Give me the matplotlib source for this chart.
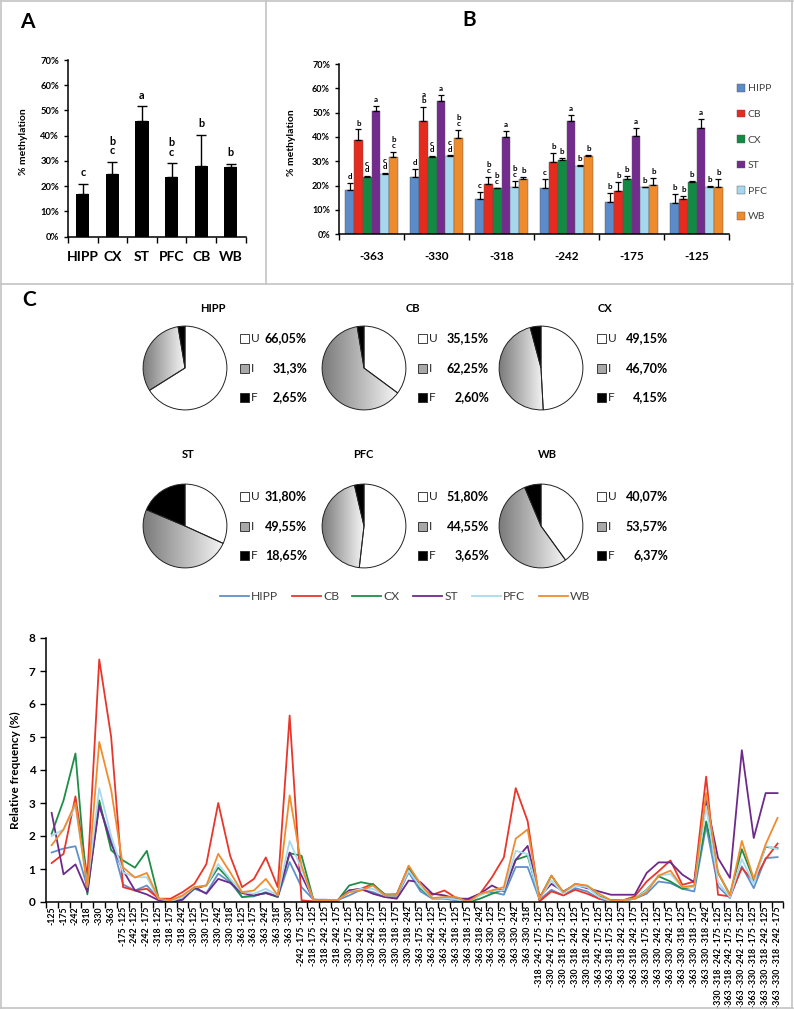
import numpy as np
import matplotlib
matplotlib.use('Agg')
import matplotlib.pyplot as plt
from matplotlib.patches import Rectangle, Patch
from matplotlib.lines import Line2D
from matplotlib.ticker import PercentFormatter, FixedLocator
from matplotlib.colors import LinearSegmentedColormap

plt.rcParams['font.family'] = ['Lato', 'DejaVu Sans']

# ---- panel A: overall methylation per region
a_regions = ['HIPP', 'CX', 'ST', 'PFC', 'CB', 'WB']
a_mean = [16.8, 24.8, 46.0, 23.7, 28.0, 27.6]
a_err = [4.2, 4.9, 5.7, 5.3, 12.4, 1.3]
a_letters = ['c', 'b\nc', 'a', 'b\nc', 'b', 'b']

# ---- panel B: methylation per CpG site
b_sites = ['-363', '-330', '-318', '-242', '-175', '-125']
b_regions = ['HIPP', 'CB', 'CX', 'ST', 'PFC', 'WB']
b_hipp = [18.2, 23.7, 14.4, 18.9, 13.2, 13.0]
b_cb = [38.8, 46.6, 20.5, 29.6, 17.9, 14.5]
b_cx = [23.7, 31.6, 18.9, 30.5, 22.6, 21.6]
b_st = [50.7, 54.8, 40.1, 46.6, 40.4, 43.6]
b_pfc = [24.8, 32.0, 19.6, 28.1, 19.3, 19.3]
b_wb = [31.6, 39.5, 22.6, 32.2, 20.3, 19.6]
b_hipp_err = [2.8, 3.0, 3.1, 3.8, 3.9, 3.4]
b_cb_err = [4.3, 5.9, 2.9, 3.7, 3.5, 1.4]
b_cx_err = [0.3, 0.5, 0.3, 0.7, 1.4, 0.2]
b_st_err = [2.0, 2.5, 2.5, 2.4, 3.2, 3.8]
b_pfc_err = [0.3, 0.4, 2.5, 0.3, 0.2, 0.7]
b_wb_err = [2.4, 3.4, 0.8, 0.4, 3.0, 3.0]
b_hipp_let = ['d', 'd', 'c', 'c', 'b', 'b']
b_cb_let = ['b', 'a\nb', 'b\nc', 'b', 'b', 'b']
b_cx_let = ['c\nd', 'c\nd', 'b\nc', 'b', 'b', 'b']
b_st_let = ['a', 'a', 'a', 'a', 'a', 'a']
b_pfc_let = ['c\nd', 'c\nd', 'b\nc', 'b', 'b', 'b']
b_wb_let = ['b\nc', 'b\nc', 'b', 'b', 'b', 'b']

# ---- panel C: pies (unmethylated / intermediate / fully methylated)
pie_regions = ['HIPP', 'CB', 'CX', 'ST', 'PFC', 'WB']
pie_u = ['66,05%', '35,15%', '49,15%', '31,80%', '51,80%', '40,07%']
pie_i = ['31,3%', '62,25%', '46,70%', '49,55%', '44,55%', '53,57%']
pie_f = ['2,65%', '2,60%', '4,15%', '18,65%', '3,65%', '6,37%']

# ---- panel C: relative frequency of methylated CpG combinations
combos = ['-125', '-175', '-242', '-318', '-330', '-363',
          '-175 -125', '-242 -125', '-242 -175', '-318 -125', '-318 -175',
          '-318 -242', '-330 -125', '-330 -175', '-330 -242', '-330 -318',
          '-363 -125', '-363 -175', '-363 -242', '-363 -318', '-363 -330',
          '-242 -175 -125', '-318 -175 -125', '-318 -242 -125', '-318 -242 -175',
          '-330 -175 -125', '-330 -242 -125', '-330 -242 -175', '-330 -318 -125',
          '-330 -318 -175', '-330 -318 -242', '-363 -175 -125', '-363 -242 -125',
          '-363 -242 -175', '-363 -318 -125', '-363 -318 -175', '-363 -318 -242',
          '-363 -330 -125', '-363 -330 -175', '-363 -330 -242', '-363 -330 -318',
          '-318 -242 -175 -125', '-330 -242 -175 -125', '-330 -318 -175 -125',
          '-330 -318 -242 -125', '-330 -318 -242 -175', '-363 -242 -175 -125',
          '-363 -318 -175 -125', '-363 -318 -242 -125', '-363 -318 -242 -175',
          '-363 -330 -175 -125', '-363 -330 -242 -125', '-363 -330 -242 -175',
          '-363 -330 -318 -125', '-363 -330 -318 -175', '-363 -330 -318 -242',
          '-330 -318 -242 -175 -125', '-363 -318 -242 -175 -125',
          '-363 -330 -242 -175 -125', '-363 -330 -318 -175 -125',
          '-363 -330 -318 -242 -125', '-363 -330 -318 -242 -175']
freq_hipp = [1.5, 1.62, 1.69, 0.45, 2.93, 1.87, 0.53, 0.35, 0.5, 0.1, 0.0, 0.07, 0.4, 0.27, 0.86, 0.6,
             0.15, 0.17, 0.3, 0.15, 1.21, 0.45, 0.07, 0.07, 0.05, 0.2, 0.37, 0.3, 0.15, 0.15, 0.9,
             0.32, 0.1, 0.1, 0.05, 0.0, 0.25, 0.3, 0.22, 1.06, 1.06, 0.07, 0.37, 0.2, 0.42, 0.32,
             0.1, 0.0, 0.05, 0.1, 0.25, 0.62, 0.57, 0.4, 0.32, 2.3, 0.47, 0.12, 1.08, 0.42, 1.33, 1.36]
freq_cb = [1.18, 1.46, 3.2, 0.75, 7.35, 5.0, 0.45, 0.35, 0.4, 0.1, 0.1, 0.3, 0.55, 1.15, 3.0, 1.4,
           0.45, 0.7, 1.35, 0.45, 5.65, 0.05, 0.02, 0.03, 0.03, 0.35, 0.4, 0.55, 0.2, 0.23, 1.08,
           0.42, 0.22, 0.35, 0.12, 0.07, 0.25, 0.75, 1.35, 3.45, 2.45, 0.02, 0.32, 0.2, 0.37, 0.25,
           0.1, 0.05, 0.05, 0.17, 0.62, 0.93, 1.26, 0.52, 0.62, 3.8, 0.22, 0.17, 1.03, 0.62, 1.3, 1.77]
freq_cx = [2.07, 3.08, 4.5, 0.23, 3.08, 1.57, 1.26, 1.04, 1.55, 0.1, 0.03, 0.15, 0.4, 0.5, 1.04, 0.66,
           0.15, 0.2, 0.27, 0.15, 1.48, 1.4, 0.07, 0.05, 0.03, 0.5, 0.6, 0.53, 0.23, 0.23, 1.05,
           0.4, 0.12, 0.12, 0.1, 0.0, 0.1, 0.25, 0.37, 1.28, 1.4, 0.12, 0.8, 0.27, 0.55, 0.47,
           0.17, 0.05, 0.05, 0.1, 0.37, 0.78, 0.62, 0.4, 0.47, 2.44, 0.88, 0.22, 1.6, 0.68, 1.67, 1.63]
freq_st = [2.7, 0.84, 1.14, 0.3, 2.93, 1.77, 0.96, 0.35, 0.23, 0.05, 0.0, 0.07, 0.45, 0.25, 0.7, 0.58,
           0.27, 0.2, 0.27, 0.17, 1.5, 0.8, 0.07, 0.05, 0.05, 0.35, 0.4, 0.25, 0.15, 0.1, 0.65,
           0.6, 0.25, 0.2, 0.1, 0.1, 0.25, 0.5, 0.32, 1.28, 1.7, 0.17, 0.55, 0.32, 0.52, 0.42,
           0.32, 0.22, 0.22, 0.22, 0.88, 1.2, 1.2, 0.83, 0.6, 3.1, 1.33, 0.73, 4.6, 1.94, 3.3, 3.3]
freq_pfc = [2.0, 2.2, 2.9, 0.5, 3.45, 2.0, 0.9, 0.75, 0.75, 0.1, 0.02, 0.15, 0.45, 0.5, 1.15, 0.7,
            0.3, 0.25, 0.4, 0.2, 1.85, 1.0, 0.05, 0.05, 0.05, 0.3, 0.4, 0.4, 0.2, 0.2, 0.95,
            0.45, 0.12, 0.12, 0.08, 0.0, 0.2, 0.35, 0.35, 1.55, 1.45, 0.1, 0.65, 0.25, 0.5, 0.45,
            0.15, 0.02, 0.05, 0.1, 0.35, 0.8, 0.85, 0.45, 0.45, 2.9, 0.6, 0.15, 1.3, 0.55, 1.7, 1.6]
freq_wb = [1.72, 2.2, 3.0, 0.45, 4.85, 3.4, 1.05, 0.74, 0.88, 0.1, 0.05, 0.2, 0.45, 0.5, 1.46, 0.9,
           0.3, 0.35, 0.7, 0.2, 3.23, 1.1, 0.05, 0.05, 0.05, 0.3, 0.35, 0.5, 0.2, 0.2, 1.1,
           0.55, 0.12, 0.15, 0.15, 0.0, 0.25, 0.35, 0.45, 1.92, 2.2, 0.1, 0.8, 0.3, 0.55, 0.5,
           0.25, 0.05, 0.05, 0.1, 0.3, 0.8, 0.95, 0.45, 0.5, 3.3, 0.9, 0.2, 1.85, 0.7, 1.75, 2.55]

bar_colors = ['#5B8BC8', '#E52A1E', '#138A43', '#732C8E', '#A6D7EC', '#EE8B2C']
line_colors = ['#6090CB', '#E8362A', '#1E8E46', '#6E2A8B', '#A9DAEE', '#F08C2E']

W, H = 794, 1010


def rect(x0, y0, x1, y1):
    # pixel box (origin top-left) -> figure fraction
    return [x0 / W, 1 - y1 / H, (x1 - x0) / W, (y1 - y0) / H]


def fx(x):
    return x / W


def fy(y):
    return 1 - y / H


def pct(s):
    return float(s.replace(',', '.').rstrip('%'))


def excel_axes(ax):
    ax.spines['top'].set_visible(False)
    ax.spines['right'].set_visible(False)
    for s in ['left', 'bottom']:
        ax.spines[s].set_linewidth(1.1)
    ax.tick_params(axis='y', direction='out', length=3, width=1)
    ax.tick_params(axis='x', which='major', length=0)
    ax.tick_params(axis='x', which='minor', direction='out', length=4, width=1)


fig = plt.figure(figsize=(W / 100, H / 100), dpi=100)

# ---------------- panel A
ax = fig.add_axes(rect(68, 60, 245.6, 236.7))
xa = np.arange(len(a_regions))
ax.bar(xa, a_mean, width=0.45, color='black',
       yerr=[np.zeros(len(a_err)), a_err], capsize=3.5,
       error_kw=dict(elinewidth=1, capthick=1, ecolor='black'))
for i, txt in enumerate(a_letters):
    ax.text(xa[i], a_mean[i] + a_err[i] + 2.2, txt, ha='center', va='bottom',
            fontsize=7.8, fontweight='bold', linespacing=0.85)
ax.set_xlim(-0.5, len(a_regions) - 0.5)
ax.set_ylim(0, 70)
ax.set_yticks(np.arange(0, 71, 10))
ax.yaxis.set_major_formatter(PercentFormatter(decimals=0))
ax.set_xticks(xa)
ax.set_xticklabels(a_regions, fontsize=10, fontweight='bold')
ax.xaxis.set_minor_locator(FixedLocator(np.arange(-0.5, len(a_regions), 1)))
excel_axes(ax)
ax.tick_params(axis='x', which='major', pad=10)
for t in ax.get_yticklabels():
    t.set_fontsize(6.8)
    t.set_fontweight('bold')
fig.text(fx(24), fy(142), '% methylation', rotation=90, ha='center', va='center',
         fontsize=7.5, fontweight='bold')

# ---------------- panel B
axb = fig.add_axes(rect(339, 64, 729, 234.3))
xb = np.arange(len(b_sites))
bw = 0.134
b_vals = [b_hipp, b_cb, b_cx, b_st, b_pfc, b_wb]
b_errs = [b_hipp_err, b_cb_err, b_cx_err, b_st_err, b_pfc_err, b_wb_err]
b_lets = [b_hipp_let, b_cb_let, b_cx_let, b_st_let, b_pfc_let, b_wb_let]
for k, (vals, errs, lets) in enumerate(zip(b_vals, b_errs, b_lets)):
    pos = xb + (k - 2.5) * bw
    axb.bar(pos, vals, width=bw, color=bar_colors[k], edgecolor='#555555', linewidth=0.3,
            yerr=[np.zeros(len(errs)), errs], capsize=2.2,
            error_kw=dict(elinewidth=0.9, capthick=0.9, ecolor='black'), label=b_regions[k])
    for p, v, e, t in zip(pos, vals, errs, lets):
        axb.text(p, v + e + 1.2, t, ha='center', va='bottom', fontsize=5.8,
                 fontweight='bold', linespacing=0.85)
axb.set_xlim(-0.5, len(b_sites) - 0.5)
axb.set_ylim(0, 70)
axb.set_yticks(np.arange(0, 71, 10))
axb.yaxis.set_major_formatter(PercentFormatter(decimals=0))
axb.set_xticks(xb)
axb.set_xticklabels(b_sites, fontsize=8.5, fontweight='bold')
axb.xaxis.set_minor_locator(FixedLocator(np.arange(-0.5, len(b_sites), 1)))
excel_axes(axb)
axb.tick_params(axis='x', which='major', pad=12)
for t in axb.get_yticklabels():
    t.set_fontsize(6.5)
    t.set_fontweight('bold')
fig.text(fx(291), fy(143), '% methylation', rotation=90, ha='center', va='center',
         fontsize=7.5, fontweight='bold')
hb, lb = axb.get_legend_handles_labels()
handles_b = [Patch(facecolor=bar_colors[k], edgecolor='#555555', linewidth=0.3) for k in range(len(lb))]
leg_b = fig.legend(handles_b, lb, loc='upper left', bbox_to_anchor=(fx(737), fy(84)),
                   frameon=False, fontsize=7.5, handlelength=0.75, handleheight=0.75,
                   labelspacing=1.55, handletextpad=0.3, borderaxespad=0, borderpad=0)
for t in leg_b.get_texts():
    t.set_color('#404040')

# ---------------- panel C: pies
grey_cmap = LinearSegmentedColormap.from_list('pie_grey', ['#7a7a7a', '#f6f6f6'])
pie_cx = [185, 364, 541]
pie_cy = [368, 526]
title_pos = [(213, 308), (413, 308), (605, 308), (188, 455), (363, 455), (547, 455)]
leg_sq_x = [240, 418, 597]
val_right = [307, 489, 668]
for n, region in enumerate(pie_regions):
    col, row = n % 3, n // 3
    cx, cy = pie_cx[col], pie_cy[row]
    r = 44
    axp = fig.add_axes(rect(cx - r, cy - r, cx + r, cy + r))
    sizes = [pct(pie_u[n]), pct(pie_i[n]), pct(pie_f[n])]
    wedges, _ = axp.pie(sizes, colors=['white', 'none', 'black'], startangle=90,
                        counterclock=False, radius=1,
                        wedgeprops=dict(edgecolor='#222222', linewidth=0.7))
    # intermediate slice: grey shading, dark on the left
    w = wedges[1]
    bb = w.get_path().get_extents()
    grad = np.linspace(0, 1, 256).reshape(1, -1)
    im = axp.imshow(grad, cmap=grey_cmap, extent=[bb.x0, bb.x1, bb.y0, bb.y1],
                    aspect='auto', zorder=0.5, interpolation='bilinear')
    im.set_clip_path(w)
    axp.set_xlim(-1.05, 1.05)
    axp.set_ylim(-1.05, 1.05)
    axp.set_aspect('equal')
    axp.axis('off')

    tx, ty = title_pos[n]
    fig.text(fx(tx), fy(ty), region, ha='center', va='center', fontsize=8, fontweight='bold')

    for j, (code, txt, fc) in enumerate(zip(['U', 'I', 'F'],
                                            [pie_u[n], pie_i[n], pie_f[n]],
                                            ['white', '#a8a8a8', 'black'])):
        yy = cy + (j - 1) * 29.5
        sq = Rectangle((fx(leg_sq_x[col]), fy(yy + 4.5)), 9 / W, 9 / H,
                       transform=fig.transFigure, facecolor=fc, edgecolor='#222222', linewidth=0.6)
        fig.add_artist(sq)
        fig.text(fx(leg_sq_x[col] + 11), fy(yy), code, ha='left', va='center',
                 fontsize=8.5, color='#222222')
        fig.text(fx(val_right[col]), fy(yy), txt, ha='right', va='center',
                 fontsize=9, fontweight='bold')

# ---------------- panel C: line chart
axl = fig.add_axes(rect(45.7, 638, 783.5, 902))
xl = np.arange(len(combos))
series = [freq_hipp, freq_cb, freq_cx, freq_st, freq_pfc, freq_wb]
for k, vals in enumerate(series):
    axl.plot(xl, vals, color=line_colors[k], linewidth=1.3, label=b_regions[k])
axl.set_xlim(-0.5, len(combos) - 0.5)
axl.set_ylim(0, 8)
axl.set_yticks(np.arange(0, 9, 1))
axl.set_xticks(xl)
axl.set_xticklabels(combos, rotation=90, fontsize=6.3, fontweight='bold')
axl.xaxis.set_minor_locator(FixedLocator(np.arange(-0.5, len(combos), 1)))
excel_axes(axl)
axl.tick_params(axis='x', which='major', pad=3)
axl.tick_params(axis='y', length=4)
for t in axl.get_yticklabels():
    t.set_fontsize(8.5)
    t.set_fontweight('bold')
fig.text(fx(15), fy(770), 'Relative frequency (%)', rotation=90, ha='center', va='center',
         fontsize=8.5, fontweight='bold')
hl, ll = axl.get_legend_handles_labels()
leg_l = fig.legend(hl, ll, loc='center', bbox_to_anchor=(fx(405), fy(597)), ncol=6,
                   frameon=False, fontsize=8.7, handlelength=2.4, columnspacing=1.1,
                   handletextpad=0.2, borderaxespad=0, borderpad=0)
for t in leg_l.get_texts():
    t.set_color('#404040')

# ---------------- panel letters and frame
fig.text(fx(20), fy(22), 'A', fontsize=15, fontweight='bold', ha='left', va='center')
fig.text(fx(462), fy(20), 'B', fontsize=15, fontweight='bold', ha='left', va='center')
fig.text(fx(22), fy(300), 'C', fontsize=15, fontweight='bold', ha='left', va='center')

frame = [((1, 1), (793, 1)), ((1, 1), (1, 1008)), ((792, 1), (792, 1008)), ((1, 1008), (793, 1008)),
         ((265.5, 1), (265.5, 284)), ((1, 284), (793, 284))]
for (x0, y0), (x1, y1) in frame:
    fig.add_artist(Line2D([fx(x0), fx(x1)], [fy(y0), fy(y1)], transform=fig.transFigure,
                          color='#c4c4c4', linewidth=1.2))

fig.savefig('out.png', dpi=100)
